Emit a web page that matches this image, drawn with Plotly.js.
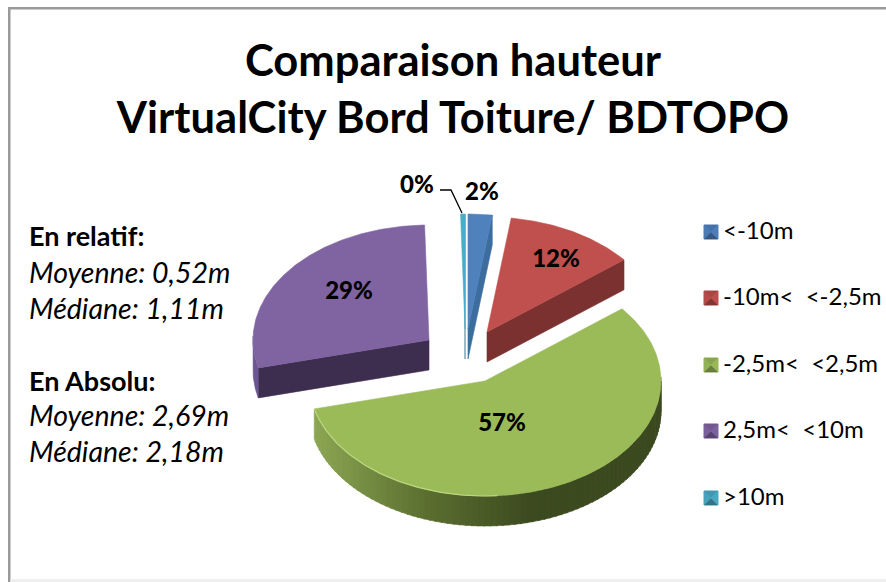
<!DOCTYPE html>
<html>
<head>
<meta charset="utf-8">
<script src="https://cdn.plot.ly/plotly-3.0.1.min.js"></script>
<style>html,body{margin:0;padding:0;background:#fff}#chart{width:886px;height:582px}</style>
</head>
<body>
<div id="chart"></div>
<script>
// ---- data ----
const categories = ['<-10m', '-10m<  <-2,5m', '-2,5m<  <2,5m', '2,5m<  <10m', '>10m'];
const shares = [2.2, 12.0, 56.9, 28.5, 0.4];
const titleLines = ['Comparaison hauteur', 'VirtualCity Bord Toiture/ BDTOPO'];
const statsHeads = ['En relatif:', 'En Absolu:'];
const statsLines = ['Moyenne: 0,52m', 'Médiane: 1,11m', 'Moyenne: 2,69m', 'Médiane: 2,18m'];

// ---- styling ----
const FONT = 'Lato, "Open Sans", sans-serif';
const topColors = ['#4f81bd', '#c0504d', '#9bbb59', '#8064a2', '#4bacc6'];
const wallColors = ['#3d6c9e', '#7a3130', '#55682f', '#3d2d4e', '#2f7f95'];
const rimColors = [null, null, null, '#6c5590', null];
const apexX = [468, 487, 485, 429, 465];
const apexY = [329, 332, 381, 340, 329];
const RX = 176, RY = 115, DEPTH = 30;
const labelX = [482, 556, 502, 349, 417];
const labelY = [193.5, 260.5, 425, 292.5, 186.5];
const swatchX = 711, swatchYs = [232, 298, 365, 431, 498], SW = 7;
const drawOrder = [4, 0, 1, 3, 2];

// ---- geometry: sweep each slice clockwise from 12 o'clock ----
const rad = d => d * Math.PI / 180;
let cum = 0;
const starts = [], ends = [];
shares.forEach(v => { starts.push(cum / 100 * 360); cum += v; ends.push(cum / 100 * 360); });
const px = (i, a) => apexX[i] + RX * Math.sin(rad(a));
const py = (i, a) => apexY[i] - RY * Math.cos(rad(a));

const traces = [];
const poly = (xs, ys, color) => traces.push({
  type: 'scatter', mode: 'lines', x: xs, y: ys, fill: 'toself', fillcolor: color,
  line: {color: color, width: 0.6}, hoverinfo: 'skip', showlegend: false
});
const mix = (a, b, t) => {
  const p = c => [1, 3, 5].map(k => parseInt(c.substr(k, 2), 16));
  const A = p(a), B = p(b);
  return 'rgb(' + A.map((v, k) => Math.round(v + (B[k] - v) * t)).join(',') + ')';
};

drawOrder.forEach(i => {
  const s = starts[i], e = ends[i];
  // cut faces
  if (i === 0 || i === 1 || i === 4) {
    const ax = apexX[i], ay = apexY[i], cx = px(i, e), cy = py(i, e);
    poly([ax, cx, cx, ax, ax], [ay, cy, cy + DEPTH, ay + DEPTH, ay], wallColors[i]);
  }
  if (i === 3) {
    const ax = apexX[i], ay = apexY[i], cx = px(i, s), cy = py(i, s);
    poly([ax, cx, cx, ax, ax], [ay, cy, cy + DEPTH, ay + DEPTH, ay], wallColors[i]);
    // outer rim on the left
    const xs = [], ys = [];
    for (let a = s; a <= 272; a += 1) { xs.push(px(i, a)); ys.push(py(i, a)); }
    for (let a = 272; a >= s; a -= 1) { xs.push(px(i, a)); ys.push(py(i, a) + DEPTH); }
    poly(xs, ys, rimColors[i]);
  }
  if (i === 2) {
    // outer rim, shaded from left to right
    const step = 2;
    for (let a = 88; a < e; a += step) {
      const b = Math.min(a + step + 0.5, e);
      const xs = [px(i, a), px(i, b), px(i, b), px(i, a), px(i, a)];
      const ys = [py(i, a), py(i, b), py(i, b) + DEPTH, py(i, a) + DEPTH, py(i, a)];
      const xm = px(i, (a + b) / 2);
      const f = Math.max(0, Math.min(1, (xm - 315) / 215));
      poly(xs, ys, f < 0.5 ? mix('#8ba653', '#5c7030', f * 2) : mix('#5c7030', '#3c4a20', (f - 0.5) * 2));
    }
  }
  // top surface
  const xs = [apexX[i]], ys = [apexY[i]];
  for (let a = s; a < e; a += 0.5) { xs.push(px(i, a)); ys.push(py(i, a)); }
  xs.push(px(i, e), apexX[i]); ys.push(py(i, e), apexY[i]);
  poly(xs, ys, topColors[i]);
  if (i === 2) {
    const hx = [], hy = [];
    for (let a = e; a > 175; a -= 1) { hx.push(px(i, a)); hy.push(py(i, a)); }
    traces.push({type: 'scatter', mode: 'lines', x: hx, y: hy, hoverinfo: 'skip', showlegend: false,
      line: {color: '#bcd67e', width: 1.2}});
  }
});

// value labels, rounded from the shares
traces.push({
  type: 'scatter', mode: 'text', x: labelX, y: labelY,
  text: shares.map(v => Math.round(v) + '%'), textposition: 'middle center',
  textfont: {family: FONT, size: 24, color: '#000', weight: 900},
  hoverinfo: 'skip', showlegend: false
});
// leader line of the smallest slice
traces.push({type: 'scatter', mode: 'lines', x: [440, 451, 462], y: [190, 190, 213],
  line: {color: '#000', width: 1.3}, hoverinfo: 'skip', showlegend: false});

// legend swatches with their bevel, and legend texts
categories.forEach((c, i) => {
  const y = swatchYs[i], x = swatchX, col = topColors[i];
  poly([x - SW, x + SW, x + SW, x - SW, x - SW], [y - SW, y - SW, y + SW, y + SW, y - SW], col);
  poly([x - SW, x + SW, x, x - SW], [y - SW, y - SW, y, y - SW], mix(col, '#000000', 0.12));
  poly([x - SW, x + SW, x, x - SW], [y + SW, y + SW, y, y + SW], mix(col, '#000000', 0.32));
  poly([x - SW, x, x - SW, x - SW], [y - SW, y, y + SW, y - SW], mix(col, '#000000', 0.05));
  poly([x + SW, x, x + SW, x + SW], [y - SW, y, y + SW, y - SW], mix(col, '#000000', 0.02));
});
traces.push({
  type: 'scatter', mode: 'text', x: swatchYs.map(() => 723), y: swatchYs.map(y => y + 0.5),
  text: categories, textposition: 'middle right',
  textfont: {family: FONT, size: 24, color: '#000'},
  hoverinfo: 'skip', showlegend: false
});

const leftLine = (txt, y, bold) => ({
  text: bold ? '<b>' + txt + '</b>' : '<i>' + txt + '</i>',
  x: 27, y: y, xref: 'x', yref: 'y', xanchor: 'left', yanchor: 'middle',
  showarrow: false, font: {family: FONT, size: bold ? 27 : 28.5, color: '#000'}
});

const layout = {
  width: 886, height: 582,
  margin: {l: 0, r: 0, t: 0, b: 0},
  paper_bgcolor: '#fff', plot_bgcolor: '#fff', showlegend: false,
  title: {
    text: '<b>' + titleLines.join('<br>') + '</b>',
    x: 453 / 886, xanchor: 'center', y: 1 - 76 / 582, yanchor: 'top',
    font: {family: FONT, size: 43.5, color: '#000'}
  },
  xaxis: {range: [0, 886], visible: false, fixedrange: true},
  yaxis: {range: [582, 0], visible: false, fixedrange: true},
  annotations: [
    leftLine(statsHeads[0], 235, true),
    leftLine(statsLines[0], 272, false),
    leftLine(statsLines[1], 308, false),
    leftLine(statsHeads[1], 380, true),
    leftLine(statsLines[2], 415, false),
    leftLine(statsLines[3], 451, false)
  ],
  shapes: [
    {type: 'rect', xref: 'x', yref: 'y', x0: 8, x1: 10.5, y0: 7, y1: 582, fillcolor: '#9a9a9a', line: {width: 0}},
    {type: 'rect', xref: 'x', yref: 'y', x0: 8, x1: 886, y0: 7, y1: 9.5, fillcolor: '#9a9a9a', line: {width: 0}},
    {type: 'rect', xref: 'x', yref: 'y', x0: 10.5, x1: 886, y0: 579, y1: 582, fillcolor: '#efefef', line: {width: 0}}
  ]
};
Plotly.newPlot('chart', traces, layout, {displayModeBar: false, staticPlot: true});
</script>
</body>
</html>
